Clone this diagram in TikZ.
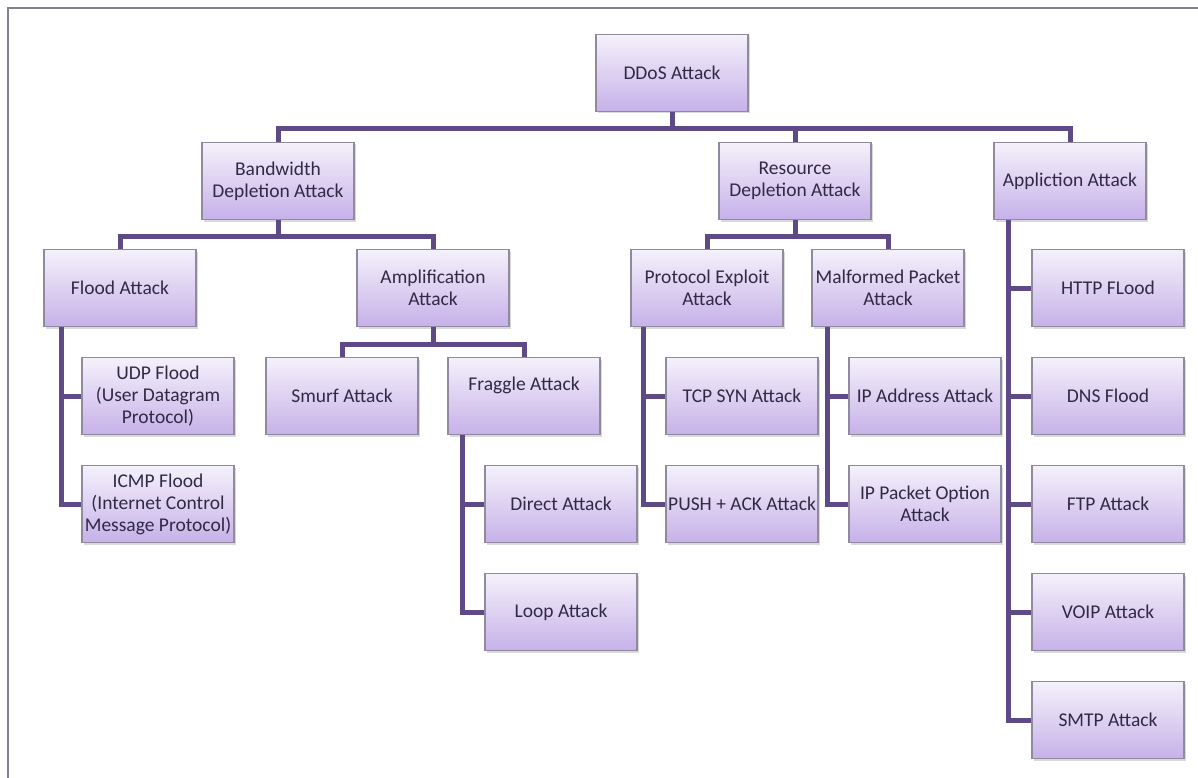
\documentclass[tikz,border=0pt]{standalone}
\usepackage{fontspec}
\setmainfont{Carlito}
\usetikzlibrary{shadows}
\definecolor{cFrame}{HTML}{80828C}
\definecolor{cLink} {HTML}{5E4A86}
\definecolor{cEdge} {HTML}{8F8A9E}
\definecolor{cTop}  {HTML}{F5F1FB}
\definecolor{cBot}  {HTML}{C6B1E9}
\definecolor{ink}   {HTML}{302A45}

\begin{document}
\begin{tikzpicture}[x=1pt,y=1pt,
    box/.style ={draw=cEdge,line width=1.1pt,top color=cTop,bottom color=cBot,
                 minimum width=152pt,minimum height=77pt,inner sep=1pt,
                 align=center,text=ink,font=\fontsize{19.5}{22}\selectfont,
                 drop shadow={opacity=0.3,shadow xshift=2pt,shadow yshift=-2pt}},
    link/.style={draw=cLink,line width=5pt},
  ]

% fixed bounding box -> same proportions as the source figure
\useasboundingbox (0,0) rectangle (1198,-778);

% ---- frame -----------------------------------------------------------------
\draw[cFrame,line width=2.5pt] (8,-778) -- (8,-8) -- (1198,-8);

% ---- level 0/1 -------------------------------------------------------------
\node[box] (ddos) at (672,-73)  {DDoS Attack};
\node[box] (bw)   at (278,-181) {Bandwidth\\Depletion Attack};
\node[box] (res)  at (795,-181) {Resource\\Depletion Attack};
\node[box] (app)  at (1070,-181){Appliction Attack};

% ---- level 2 ---------------------------------------------------------------
\node[box] (flood) at (120,-288) {Flood Attack};
\node[box] (amp)   at (433,-288) {Amplification\\Attack};
\node[box] (proto) at (707,-288) {Protocol Exploit\\Attack};
\node[box] (mal)   at (888,-288) {Malformed Packet\\Attack};

% ---- level 3 ---------------------------------------------------------------
\node[box] (smurf)   at (342,-396) {Smurf Attack};
\node[box,text depth=24pt] (fraggle) at (524,-396) {Fraggle Attack};

\node[box] (udp)  at (158,-396) {UDP Flood\\(User Datagram\\Protocol)};
\node[box] (icmp) at (158,-504) {ICMP Flood\\(Internet Control\\Message Protocol)};

\node[box] (direct) at (561,-504) {Direct Attack};
\node[box] (loop)   at (561,-612) {Loop Attack};

\node[box] (tcp)  at (742,-396) {TCP SYN Attack};
\node[box] (push) at (742,-504) {PUSH + ACK Attack};

\node[box] (ipaddr) at (925,-396) {IP Address Attack};
\node[box] (ipopt)  at (925,-504) {IP Packet Option\\Attack};

\node[box] (http) at (1108,-288) {HTTP FLood};
\node[box] (dns)  at (1108,-396) {DNS Flood};
\node[box] (ftp)  at (1108,-504) {FTP Attack};
\node[box] (voip) at (1108,-612) {VOIP Attack};
\node[box] (smtp) at (1108,-720) {SMTP Attack};

% ---- tree links (bus style) ------------------------------------------------
\foreach \c in {bw,res,app}
  \draw[link] (ddos.south) -- ++(0,-16) -| (\c.north);
\foreach \c in {flood,amp}
  \draw[link] (bw.south) -- ++(0,-16) -| (\c.north);
\foreach \c in {proto,mal}
  \draw[link] (res.south) -- ++(0,-16) -| (\c.north);
\foreach \c in {smurf,fraggle}
  \draw[link] (amp.south) -- ++(0,-17) -| (\c.north);

% ---- side links ------------------------------------------------------------
\foreach \c in {udp,icmp}
  \draw[link] ([xshift=18pt]flood.south west) |- (\c.west);
\foreach \c in {direct,loop}
  \draw[link] ([xshift=15pt]fraggle.south west) |- (\c.west);
\foreach \c in {tcp,push}
  \draw[link] ([xshift=13pt]proto.south west) |- (\c.west);
\foreach \c in {ipaddr,ipopt}
  \draw[link] ([xshift=16pt]mal.south west) |- (\c.west);
\foreach \c in {http,dns,ftp,voip,smtp}
  \draw[link] ([xshift=15pt]app.south west) |- (\c.west);

\end{tikzpicture}
\end{document}
